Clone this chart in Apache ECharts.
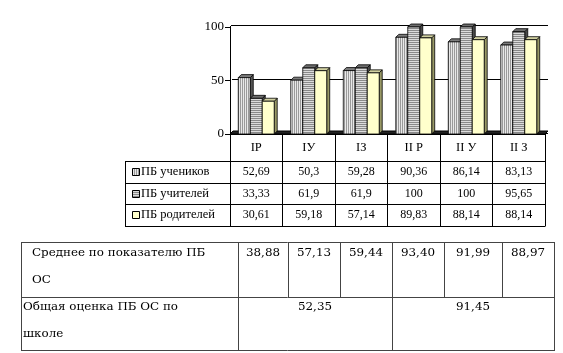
<!DOCTYPE html>
<html><head><meta charset="utf-8">
<script src="https://cdn.jsdelivr.net/npm/echarts@6/dist/echarts.min.js"></script>
<style>html,body{margin:0;padding:0;background:#fff;}#c{width:563px;height:353px;}</style>
</head><body><div id="c"></div>
<script>
const categories = ['IР', 'IУ', 'IЗ', 'II Р', 'II У', 'II З'];
const seriesNames = ['ПБ учеников', 'ПБ учителей', 'ПБ родителей'];
const students = [52.69, 50.3, 59.28, 90.36, 86.14, 83.13];
const teachers = [33.33, 61.9, 61.9, 100, 100, 95.65];
const parents = [30.61, 59.18, 57.14, 89.83, 88.14, 88.14];
const yTicks = [0, 50, 100];
const avgLabel = ['Среднее по показателю ПБ', 'ОС'];
const avgValues = ['38,88', '57,13', '59,44', '93,40', '91,99', '88,97'];
const overallLabel = ['Общая оценка ПБ ОС по', 'школе'];
const overallValues = ['52,35', '91,45'];

const seriesData = [students, teachers, parents];
const fmt = v => String(v).replace('.', ',');

function stripe(vertical, a, b) {
  const c = document.createElement('canvas');
  c.width = vertical ? 2 : 1; c.height = vertical ? 1 : 2;
  const g = c.getContext('2d');
  g.fillStyle = a; g.fillRect(0, 0, 1, 1);
  g.fillStyle = b; g.fillRect(vertical ? 1 : 0, vertical ? 0 : 1, 1, 1);
  return { image: c, repeat: 'repeat' };
}
const fronts = [stripe(true, '#9a9a9a', '#e8e8e8'), stripe(false, '#8a8a8a', '#dcdcdc'), '#ffffcc'];
const tops = ['#7c7c7c', '#6e6e6e', '#d0d0a0'];
const sides = ['#555555', '#4a4a4a', '#999966'];

const GL = 230, GR = 545, GT = 27, GB = 134;
const HEAD = 27, ROW = 21.67;
const serif = "'Liberation Serif', 'Times New Roman', serif";
const tableFont = "'DejaVu Serif', serif";

function makeRender(si) {
  return function (params, api) {
    const idx = api.value(0), val = api.value(1);
    const top = api.coord([idx, val]);
    const base = api.coord([idx, 0]);
    const band = api.size([1, 0])[0];
    const w = band * 0.228, d = 3;
    const x = top[0] - 1.5 * w + si * w;
    const y1 = top[1], y0 = base[1];
    const st = { stroke: '#000', lineWidth: 0.8 };
    return {
      type: 'group', children: [
        { type: 'polygon', shape: { points: [[x + w, y1], [x + w + d, y1 - d], [x + w + d, y0 - d], [x + w, y0]] }, style: Object.assign({ fill: sides[si] }, st) },
        { type: 'polygon', shape: { points: [[x, y1], [x + d, y1 - d], [x + w + d, y1 - d], [x + w, y1]] }, style: Object.assign({ fill: tops[si] }, st) },
        { type: 'rect', shape: { x: x, y: y1, width: w, height: y0 - y1 }, style: Object.assign({ fill: fronts[si] }, st) }
      ]
    };
  };
}

const chart = echarts.init(document.getElementById('c'), null, { renderer: 'canvas' });
chart.setOption({
  animation: false,
  textStyle: { fontFamily: serif },
  grid: [
    { left: GL, right: 563 - GR, top: GT, bottom: 353 - GB },
    { left: GL + 2, right: 15, top: 25, bottom: 353 - 133 }
  ],
  xAxis: [
    {
      type: 'category', data: categories, gridIndex: 0,
      axisLine: { show: true, lineStyle: { color: '#000', width: 1 } },
      axisTick: { show: true, length: HEAD + 3 * ROW, lineStyle: { color: '#000', width: 1 } },
      axisLabel: {
        interval: 0, margin: 0, color: '#000', fontFamily: serif,
        formatter: (v, i) => `{h|${v}}\n{v|${fmt(students[i])}}\n{v|${fmt(teachers[i])}}\n{v|${fmt(parents[i])}}`,
        rich: {
          h: { fontFamily: serif, fontSize: 12.5, lineHeight: HEAD, color: '#000' },
          v: { fontFamily: serif, fontSize: 12, lineHeight: ROW, color: '#000' }
        }
      }
    },
    { type: 'category', data: categories, gridIndex: 1, show: false }
  ],
  yAxis: [
    {
      type: 'value', gridIndex: 0, min: yTicks[0], max: yTicks[yTicks.length - 1], interval: 50,
      axisLine: { show: true, lineStyle: { color: '#000' } },
      axisTick: { show: true, length: 5, lineStyle: { color: '#000' } },
      splitLine: { show: false },
      axisLabel: { margin: 6, color: '#000', fontFamily: serif, fontSize: 13 }
    },
    {
      type: 'value', gridIndex: 1, min: 0, max: 100, interval: 50,
      axisLine: { show: false }, axisTick: { show: false }, axisLabel: { show: false },
      splitLine: { show: true, lineStyle: { color: '#000', width: 1 } }
    }
  ],
  series: seriesNames.map((n, si) => ({
    type: 'custom', name: n, xAxisIndex: 0, yAxisIndex: 0, z: 5,
    renderItem: makeRender(si),
    encode: { x: 0, y: 1 },
    data: seriesData[si].map((v, i) => [i, v])
  }))
});

const g = [];
const line = (x1, y1, x2, y2, c, w) => g.push({ type: 'line', shape: { x1, y1, x2, y2 }, style: { stroke: c || '#000', lineWidth: w || 1 }, z: 10 });
const txt = (x, y, t, fam, size, align) => g.push({ type: 'text', x, y, style: { text: t, fontFamily: fam, fontSize: size, fill: '#000', align: align || 'left', verticalAlign: 'middle' }, z: 11 });

const y0 = chart.convertToPixel({ yAxisIndex: 0 }, 0);
g.push({ type: 'polygon', shape: { points: [[GL, y0], [GR, y0], [GR + 3, y0 - 3], [GL + 3, y0 - 3]] }, style: { fill: '#222', stroke: '#000', lineWidth: 1 }, z: 4 });
line(GL, GT, GL + 2, 25);
const rowTops = [y0 + HEAD, y0 + HEAD + ROW, y0 + HEAD + 2 * ROW, y0 + HEAD + 3 * ROW];
rowTops.forEach(y => line(125, Math.round(y) + 0.5, GR + 0.5, Math.round(y) + 0.5));
line(125.5, Math.round(rowTops[0]), 125.5, Math.round(rowTops[3]) + 1);
seriesNames.forEach((n, si) => {
  const cy = rowTops[si] + ROW / 2;
  g.push({ type: 'rect', shape: { x: 132.5, y: Math.round(cy - 4) + 0.5, width: 7, height: 7 }, style: { fill: fronts[si], stroke: '#000', lineWidth: 1 }, z: 11 });
  txt(141, cy, n, serif, 12.5);
});

const bx = [21, 238, 288, 340, 392, 444, 502, 554];
const by = [242, 297, 350];
const tc = '#444';
by.forEach(y => line(bx[0], y + 0.5, bx[7], y + 0.5, tc));
line(bx[0] + 0.5, by[0], bx[0] + 0.5, by[2] + 1, tc);
line(bx[7] + 0.5, by[0], bx[7] + 0.5, by[2] + 1, tc);
bx.slice(1, 7).forEach(x => line(x + 0.5, by[0], x + 0.5, by[1], tc));
line(bx[1] + 0.5, by[1], bx[1] + 0.5, by[2], tc);
line(bx[4] + 0.5, by[1], bx[4] + 0.5, by[2], tc);
const bs = 11.9;
txt(32, 253, avgLabel[0], tableFont, bs);
txt(32, 280, avgLabel[1], tableFont, bs);
txt(23, 307, overallLabel[0], tableFont, bs);
txt(23, 334, overallLabel[1], tableFont, bs);
avgValues.forEach((v, i) => txt((bx[i + 1] + bx[i + 2]) / 2, 253, v, tableFont, bs, 'center'));
txt((bx[1] + bx[4]) / 2, 307, overallValues[0], tableFont, bs, 'center');
txt((bx[4] + bx[7]) / 2, 307, overallValues[1], tableFont, bs, 'center');

chart.setOption({ graphic: g });
</script></body></html>
